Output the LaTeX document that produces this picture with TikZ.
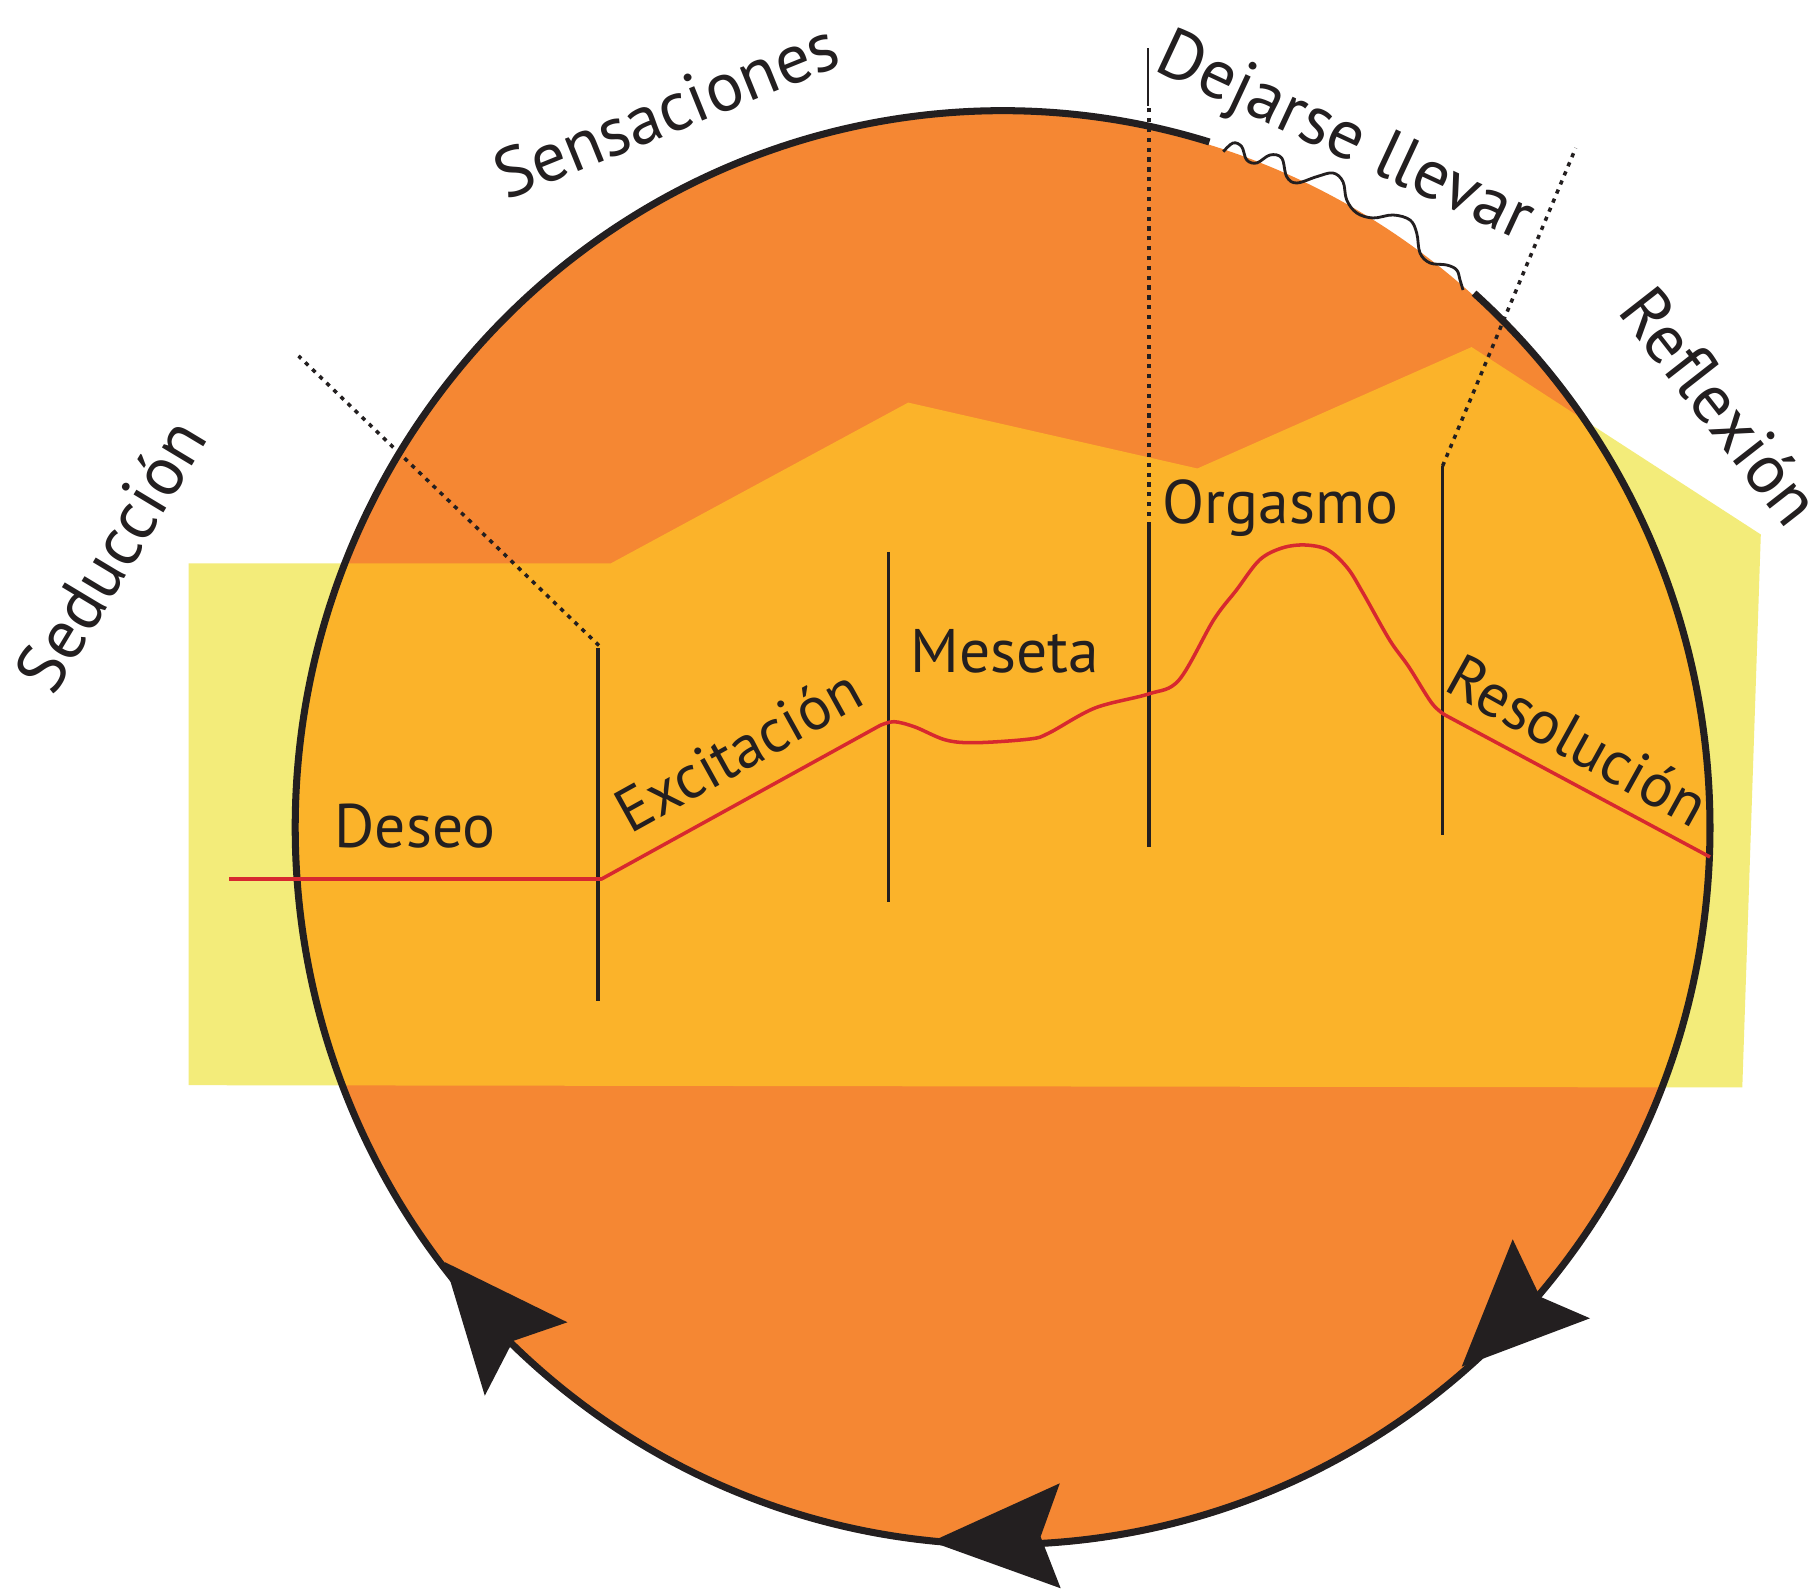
\documentclass[tikz,border=0pt]{standalone}
\usepackage{fontspec}
\setmainfont{PT Sans}
\usetikzlibrary{calc}
\definecolor{orangefill}{HTML}{F58733}
\definecolor{goldfill}{HTML}{FBB32A}
\definecolor{paleyellow}{HTML}{F3EC7A}
\definecolor{curvered}{HTML}{D7282F}
\definecolor{ink}{HTML}{231F20}
\begin{document}
\begin{tikzpicture}[x=0.01cm,y=-0.01cm,
  lbl/.style={font=\fontsize{17.5pt}{20pt}\selectfont, text=ink, inner sep=0pt},
  outerlbl/.style={font=\fontsize{19.8pt}{22pt}\selectfont, text=ink, inner sep=0pt},
  phaseline/.style={draw=ink, line width=1.0pt},
  dotline/.style={draw=ink, line width=1.0pt, dash pattern=on 1.2pt off 1.6pt},
  arrowhd/.style={fill=ink, draw=none},
  rim/.style={draw=ink, line width=2.0pt},
  redcurve/.style={draw=curvered, line width=1.0pt, line join=round},
]
\useasboundingbox (0,0) rectangle (1814,1589);
\fill[white] (0,0) rectangle (1814,1589);

% pale yellow band behind the disc
\fill[paleyellow] (188.6,563.4) -- (610.8,563.4) -- (908.2,402.6) -- (1197.4,468.5) -- (1471.6,347.1) -- (1760.8,534.5) -- (1742.3,1087.5) -- (188.6,1085.2) -- cycle;

% orange disc
\coordinate (fc) at (1002.6,830.6);
\coordinate (c) at (1002.6,827.6);
\fill[orangefill] (fc) ellipse[x radius=7.07cm, y radius=7.165cm];
\begin{scope}
  \clip (fc) ellipse[x radius=7.07cm, y radius=7.165cm];
  \fill[goldfill] (188.6,563.4) -- (610.8,563.4) -- (908.2,402.6) -- (1197.4,468.5) -- (1471.6,347.1) -- (1760.8,534.5) -- (1742.3,1087.5) -- (188.6,1085.2) -- cycle;
\end{scope}

% rim of the cycle (open at the top right)
\draw[rim] ($(c)+(48.2:7.07cm and 7.165cm)$) arc[start angle=48.2, end angle=-287, x radius=7.07cm, y radius=7.165cm];

% wavy part of the rim
\draw[draw=ink, line width=0.8pt] plot[smooth, tension=0.6] coordinates {
 (1223.3,151.7) (1233,143) (1241.7,146.7) (1246.7,160) (1256.7,163) (1270,155)
 (1281.7,158) (1286.7,176.7) (1296.7,183) (1316.7,176.7) (1333,173) (1343,181.7)
 (1346.7,200) (1356.7,213) (1373,218) (1393,215) (1410,220) (1416.7,233)
 (1420,253) (1430,263) (1446.7,265) (1456.7,270) (1460,280) (1463,290)};

% arrowheads on the rim
\fill[arrowhd] (444.6,1262) -- (567.4,1322.3) -- (513,1341) -- (484.8,1395.7) -- cycle;
\fill[arrowhd] (931.3,1541.7) -- (1059.8,1483.3) -- (1040.6,1536.7) -- (1060.7,1588.3) -- cycle;
\fill[arrowhd] (1461.7,1366.7) -- (1512.7,1239.3) -- (1540,1296.7) -- (1590,1318.3) -- cycle;

% phase separators
\draw[phaseline] (598,648) -- (598,1001);
\draw[dotline] (599,645.5) -- (298.5,356);
\draw[phaseline] (888.5,552) -- (888.5,902);
\draw[phaseline] (1149,526) -- (1149,847);
\draw[dotline] (1149,526) -- (1149,106);
\draw[draw=ink, line width=0.5pt] (1148,106) -- (1148,48);
\draw[phaseline] (1442.6,466) -- (1442.6,835);
\draw[dotline] (1442.6,466) -- (1575.7,148);

% response curve
\draw[redcurve] (229,879) -- (601.6,879) -- (880,725.5) -- plot[smooth, tension=0.55] coordinates {
 (880,725.5) (894,721.7) (915,727) (945.7,740) (976,742.7) (1030,739) (1049,733)
 (1095,708) (1148.5,694) (1179,680) (1213.6,620) (1236.5,590) (1259.5,560)
 (1282,548) (1305,545) (1328,550) (1347.5,568) (1363,593) (1389.6,640)
 (1408.7,666.7) (1431.7,703) (1445,715)} -- (1710,857);

% labels
\node[lbl, anchor=base west] (deseo) at (334,848) {Deseo};
\node[lbl, anchor=base west] (meseta) at (910,673) {Meseta};
\node[lbl, anchor=base west] (orgasmo) at (1162,524) {Orgasmo};
\node[lbl, rotate=29] (excit) at (738,750) {Excitación};
\node[lbl, rotate=-29] (resol) at (1578,740) {Resolución};
\node[outerlbl, rotate=59] (seduc) at (110,555) {Seducción};
\node[outerlbl, rotate=22] (sens) at (666,110) {Sensaciones};
\node[outerlbl, rotate=-25] (dejar) at (1344,140) {Dejarse llevar};
\node[outerlbl, rotate=-52] (refl) at (1721,406) {Reflexión};
\end{tikzpicture}
\end{document}
